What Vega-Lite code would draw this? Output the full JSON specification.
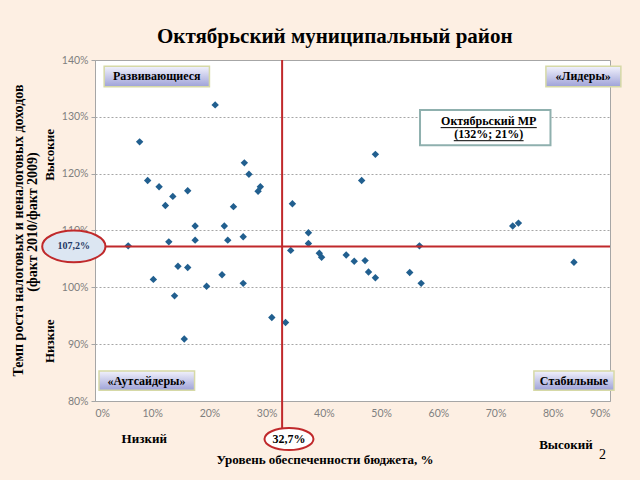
{
  "$schema": "https://vega.github.io/schema/vega-lite/v6.json",
  "width": 515,
  "height": 341,
  "autosize": "none",
  "padding": {"left": 95, "top": 60, "right": 30, "bottom": 79},
  "background": "#fdefe3",
  "view": {"fill": "white", "stroke": "#a6a6a6", "strokeWidth": 1},
  "config": {
    "text": {"font": "Liberation Serif", "fontWeight": "bold", "color": "black"}
  },
  "data": {"values": [{}]},
  "datasets": {
    "points": [
      {"x": 0.210, "y": 1.321}, {"x": 0.078, "y": 1.256}, {"x": 0.092, "y": 1.188},
      {"x": 0.112, "y": 1.177}, {"x": 0.123, "y": 1.144}, {"x": 0.136, "y": 1.160},
      {"x": 0.162, "y": 1.170}, {"x": 0.242, "y": 1.142}, {"x": 0.261, "y": 1.219},
      {"x": 0.269, "y": 1.199}, {"x": 0.289, "y": 1.177}, {"x": 0.285, "y": 1.169},
      {"x": 0.175, "y": 1.108}, {"x": 0.226, "y": 1.108}, {"x": 0.058, "y": 1.073},
      {"x": 0.129, "y": 1.080}, {"x": 0.175, "y": 1.083}, {"x": 0.232, "y": 1.083},
      {"x": 0.259, "y": 1.089}, {"x": 0.145, "y": 1.037}, {"x": 0.162, "y": 1.035},
      {"x": 0.102, "y": 1.014}, {"x": 0.222, "y": 1.022}, {"x": 0.195, "y": 1.002},
      {"x": 0.259, "y": 1.007}, {"x": 0.139, "y": 0.985}, {"x": 0.309, "y": 0.947},
      {"x": 0.333, "y": 0.938}, {"x": 0.156, "y": 0.909}, {"x": 0.466, "y": 1.188},
      {"x": 0.345, "y": 1.147}, {"x": 0.373, "y": 1.096}, {"x": 0.373, "y": 1.077},
      {"x": 0.342, "y": 1.065}, {"x": 0.392, "y": 1.060}, {"x": 0.396, "y": 1.053},
      {"x": 0.439, "y": 1.057}, {"x": 0.453, "y": 1.046}, {"x": 0.472, "y": 1.047},
      {"x": 0.478, "y": 1.027}, {"x": 0.490, "y": 1.017}, {"x": 0.550, "y": 1.026},
      {"x": 0.567, "y": 1.073}, {"x": 0.570, "y": 1.007}, {"x": 0.490, "y": 1.234},
      {"x": 0.730, "y": 1.108}, {"x": 0.740, "y": 1.113}, {"x": 0.837, "y": 1.044}
    ]
  },
  "layer": [
    {
      "data": {"name": "points"},
      "mark": {"type": "point", "shape": "diamond", "filled": true, "size": 55, "color": "#215f8f", "opacity": 1},
      "encoding": {
        "x": {
          "field": "x", "type": "quantitative",
          "scale": {"domain": [0, 0.9], "nice": false, "zero": false},
          "axis": {
            "title": null, "format": ".0%", "values": [0, 0.1, 0.2, 0.3, 0.4, 0.5, 0.6, 0.7, 0.8, 0.9],
            "grid": false, "domainColor": "#a6a6a6", "ticks": false, "labelPadding": 7,
            "labelFont": "Lato", "labelFontSize": 10.5, "labelColor": "#7f7f7f"
          }
        },
        "y": {
          "field": "y", "type": "quantitative",
          "scale": {"domain": [0.8, 1.4], "nice": false, "zero": false},
          "axis": {
            "title": null, "format": ".0%", "values": [0.8, 0.9, 1.0, 1.1, 1.2, 1.3, 1.4],
            "grid": true, "gridColor": "#a6a6a6", "gridDash": [2, 2], "domainColor": "#a6a6a6",
            "tickColor": "#a6a6a6", "tickSize": 4, "labelPadding": 3,
            "labelFont": "Lato", "labelFontSize": 10.5, "labelColor": "#7f7f7f"
          }
        }
      }
    },
    {
      "mark": {"type": "rule", "color": "#c0292b", "strokeWidth": 2},
      "encoding": {"x": {"datum": 0.327, "type": "quantitative"}, "y": {"datum": 1.4, "type": "quantitative"}, "y2": {"datum": 0.75}}
    },
    {
      "mark": {"type": "rule", "color": "#c0292b", "strokeWidth": 2},
      "encoding": {"y": {"datum": 1.072, "type": "quantitative"}, "x": {"datum": 0.016, "type": "quantitative"}, "x2": {"datum": 0.9}}
    },
    {
      "mark": {"type": "point", "shape": "M-1,0A1,0.5,0,1,0,1,0A1,0.5,0,1,0,-1,0Z", "filled": true, "size": 4000, "fill": "#dce6f2", "stroke": "#c0292b", "strokeWidth": 2, "opacity": 1},
      "encoding": {"x": {"datum": -0.037, "type": "quantitative"}, "y": {"datum": 1.072, "type": "quantitative"}}
    },
    {
      "mark": {"type": "text", "text": "107,2%", "fontSize": 10, "color": "#1f3864"},
      "encoding": {"x": {"datum": -0.037, "type": "quantitative"}, "y": {"datum": 1.072, "type": "quantitative"}}
    },
    {
      "mark": {"type": "point", "shape": "M-1,0A1,0.45,0,1,0,1,0A1,0.45,0,1,0,-1,0Z", "filled": true, "size": 2400, "fill": "white", "stroke": "#c0292b", "strokeWidth": 2, "opacity": 1},
      "encoding": {"x": {"datum": 0.339, "type": "quantitative"}, "y": {"datum": 0.733, "type": "quantitative"}}
    },
    {
      "mark": {"type": "text", "text": "32,7%", "fontSize": 12},
      "encoding": {"x": {"datum": 0.339, "type": "quantitative"}, "y": {"datum": 0.733, "type": "quantitative"}}
    },
    {
      "mark": {"type": "rect", "stroke": "#d6d9a6", "strokeWidth": 1.5, "fill": {"gradient": "linear", "x1": 0, "y1": 0, "x2": 0, "y2": 1, "stops": [{"offset": 0, "color": "#f2f2fc"}, {"offset": 1, "color": "#9ea2d8"}]}},
      "encoding": {"x": {"datum": 0.016, "type": "quantitative"}, "x2": {"datum": 0.200}, "y": {"datum": 1.389, "type": "quantitative"}, "y2": {"datum": 1.353}}
    },
    {
      "mark": {"type": "text", "text": "Развивающиеся", "fontSize": 12},
      "encoding": {"x": {"datum": 0.108, "type": "quantitative"}, "y": {"datum": 1.371, "type": "quantitative"}}
    },
    {
      "mark": {"type": "rect", "stroke": "#d6d9a6", "strokeWidth": 1.5, "fill": {"gradient": "linear", "x1": 0, "y1": 0, "x2": 0, "y2": 1, "stops": [{"offset": 0, "color": "#f2f2fc"}, {"offset": 1, "color": "#9ea2d8"}]}},
      "encoding": {"x": {"datum": 0.788, "type": "quantitative"}, "x2": {"datum": 0.919}, "y": {"datum": 1.389, "type": "quantitative"}, "y2": {"datum": 1.353}}
    },
    {
      "mark": {"type": "text", "text": "«Лидеры»", "fontSize": 12},
      "encoding": {"x": {"datum": 0.853, "type": "quantitative"}, "y": {"datum": 1.371, "type": "quantitative"}}
    },
    {
      "mark": {"type": "rect", "stroke": "#d6d9a6", "strokeWidth": 1.5, "fill": {"gradient": "linear", "x1": 0, "y1": 0, "x2": 0, "y2": 1, "stops": [{"offset": 0, "color": "#f2f2fc"}, {"offset": 1, "color": "#9ea2d8"}]}},
      "encoding": {"x": {"datum": 0.007, "type": "quantitative"}, "x2": {"datum": 0.174}, "y": {"datum": 0.853, "type": "quantitative"}, "y2": {"datum": 0.819}}
    },
    {
      "mark": {"type": "text", "text": "«Аутсайдеры»", "fontSize": 12},
      "encoding": {"x": {"datum": 0.09, "type": "quantitative"}, "y": {"datum": 0.836, "type": "quantitative"}}
    },
    {
      "mark": {"type": "rect", "stroke": "#d6d9a6", "strokeWidth": 1.5, "fill": {"gradient": "linear", "x1": 0, "y1": 0, "x2": 0, "y2": 1, "stops": [{"offset": 0, "color": "#f2f2fc"}, {"offset": 1, "color": "#9ea2d8"}]}},
      "encoding": {"x": {"datum": 0.767, "type": "quantitative"}, "x2": {"datum": 0.907}, "y": {"datum": 0.853, "type": "quantitative"}, "y2": {"datum": 0.819}}
    },
    {
      "mark": {"type": "text", "text": "Стабильные", "fontSize": 12},
      "encoding": {"x": {"datum": 0.837, "type": "quantitative"}, "y": {"datum": 0.836, "type": "quantitative"}}
    },
    {
      "mark": {"type": "rect", "fill": "white", "stroke": "#8fb0ae", "strokeWidth": 2},
      "encoding": {"x": {"datum": 0.568, "type": "quantitative"}, "x2": {"datum": 0.796}, "y": {"datum": 1.312, "type": "quantitative"}, "y2": {"datum": 1.250}}
    },
    {
      "mark": {"type": "text", "text": "Октябрьский МР", "fontSize": 12},
      "encoding": {"x": {"datum": 0.688, "type": "quantitative"}, "y": {"datum": 1.293, "type": "quantitative"}}
    },
    {
      "mark": {"type": "rule", "color": "black", "strokeWidth": 1},
      "encoding": {"x": {"datum": 0.604, "type": "quantitative"}, "x2": {"datum": 0.772}, "y": {"datum": 1.281, "type": "quantitative"}}
    },
    {
      "mark": {"type": "text", "text": "(132%; 21%)", "fontSize": 12},
      "encoding": {"x": {"datum": 0.688, "type": "quantitative"}, "y": {"datum": 1.270, "type": "quantitative"}}
    },
    {
      "mark": {"type": "rule", "color": "black", "strokeWidth": 1},
      "encoding": {"x": {"datum": 0.627, "type": "quantitative"}, "x2": {"datum": 0.749}, "y": {"datum": 1.258, "type": "quantitative"}}
    },
    {
      "mark": {"type": "text", "text": "Октябрьский муниципальный район", "fontSize": 21},
      "encoding": {"x": {"datum": 0.419, "type": "quantitative"}, "y": {"datum": 1.44, "type": "quantitative"}}
    },
    {
      "mark": {"type": "text", "text": "Темп роста налоговых и неналоговых доходов", "fontSize": 14, "angle": 270},
      "encoding": {"x": {"datum": -0.133, "type": "quantitative"}, "y": {"datum": 1.10, "type": "quantitative"}}
    },
    {
      "mark": {"type": "text", "text": "(факт 2010/факт 2009)", "fontSize": 14, "angle": 270},
      "encoding": {"x": {"datum": -0.109, "type": "quantitative"}, "y": {"datum": 1.115, "type": "quantitative"}}
    },
    {
      "mark": {"type": "text", "text": "Высокие", "fontSize": 13, "angle": 270},
      "encoding": {"x": {"datum": -0.079, "type": "quantitative"}, "y": {"datum": 1.233, "type": "quantitative"}}
    },
    {
      "mark": {"type": "text", "text": "Низкие", "fontSize": 13, "angle": 270},
      "encoding": {"x": {"datum": -0.079, "type": "quantitative"}, "y": {"datum": 0.905, "type": "quantitative"}}
    },
    {
      "mark": {"type": "text", "text": "Низкий", "fontSize": 13},
      "encoding": {"x": {"datum": 0.086, "type": "quantitative"}, "y": {"datum": 0.733, "type": "quantitative"}}
    },
    {
      "mark": {"type": "text", "text": "Высокий", "fontSize": 13},
      "encoding": {"x": {"datum": 0.823, "type": "quantitative"}, "y": {"datum": 0.722, "type": "quantitative"}}
    },
    {
      "mark": {"type": "text", "text": "2", "fontSize": 14, "font": "Liberation Serif", "fontWeight": "normal"},
      "encoding": {"x": {"datum": 0.887, "type": "quantitative"}, "y": {"datum": 0.705, "type": "quantitative"}}
    },
    {
      "mark": {"type": "text", "text": "Уровень обеспеченности бюджета, %", "fontSize": 13},
      "encoding": {"x": {"datum": 0.402, "type": "quantitative"}, "y": {"datum": 0.696, "type": "quantitative"}}
    }
  ]
}
